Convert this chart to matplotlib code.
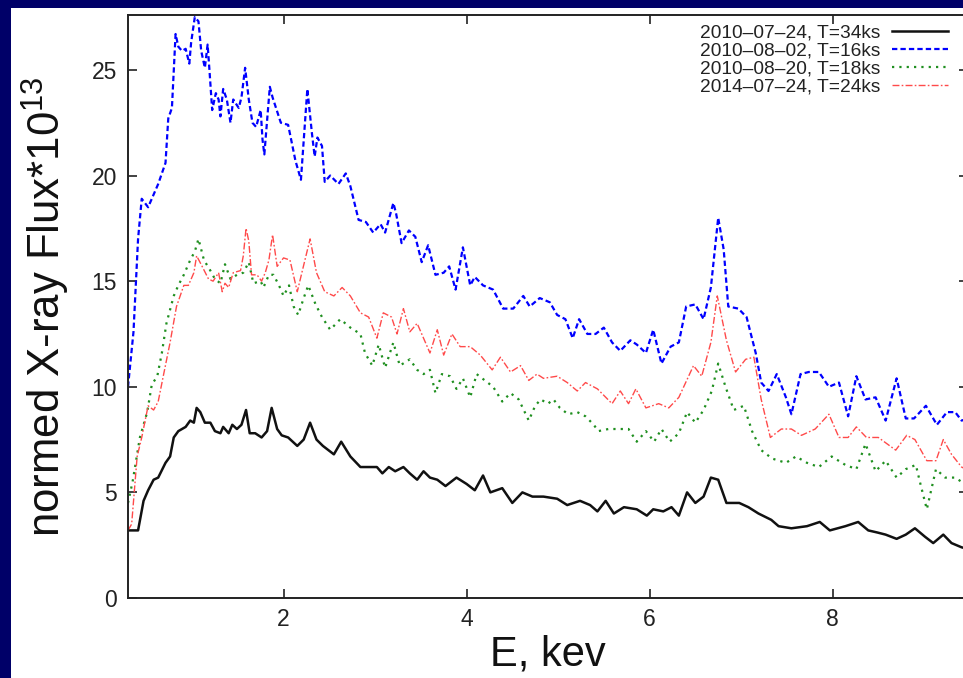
import matplotlib
matplotlib.use("Agg")
import matplotlib.pyplot as plt
from matplotlib.patches import Rectangle

plt.rcParams['font.family'] = ['Liberation Sans', 'DejaVu Sans']
plt.rcParams['mathtext.fontset'] = 'custom'
plt.rcParams['mathtext.rm'] = 'Liberation Sans'

# spectra, energy in keV and flux in units of 1e-13
e_100724 = [0.30, 0.41, 0.47, 0.52, 0.58, 0.63, 0.71, 0.76, 0.80, 0.85, 0.93, 0.98, 1.02, 1.05,
            1.09, 1.14, 1.20, 1.25, 1.31, 1.34, 1.40, 1.44, 1.49, 1.54, 1.59, 1.63, 1.69, 1.76,
            1.82, 1.87, 1.93, 1.98, 2.05, 2.15, 2.22, 2.29, 2.36, 2.43, 2.55, 2.63, 2.73, 2.84,
            2.95, 3.02, 3.08, 3.15, 3.22, 3.31, 3.38, 3.46, 3.53, 3.60, 3.68, 3.77, 3.89, 4.00,
            4.09, 4.18, 4.26, 4.39, 4.50, 4.61, 4.72, 4.84, 4.99, 5.10, 5.24, 5.35, 5.43, 5.52,
            5.61, 5.72, 5.86, 5.97, 6.04, 6.15, 6.24, 6.32, 6.41, 6.50, 6.59, 6.67, 6.75, 6.84,
            6.98, 7.08, 7.19, 7.33, 7.41, 7.55, 7.72, 7.86, 7.97, 8.14, 8.28, 8.39, 8.49, 8.58,
            8.70, 8.80, 8.90, 9.01, 9.10, 9.21, 9.30, 9.41, 9.50]
f_100724 = [3.2, 3.2, 4.6, 5.1, 5.6, 5.7, 6.4, 6.7, 7.6, 7.9, 8.1, 8.4, 8.3, 9.0,
            8.8, 8.3, 8.3, 7.9, 7.8, 8.1, 7.8, 8.2, 8.0, 8.2, 8.9, 7.8, 7.8, 7.6,
            7.9, 9.0, 8.0, 7.7, 7.6, 7.2, 7.5, 8.3, 7.5, 7.2, 6.8, 7.4, 6.7, 6.2,
            6.2, 6.2, 5.9, 6.2, 6.0, 6.2, 5.9, 5.6, 6.0, 5.7, 5.6, 5.3, 5.7, 5.4,
            5.1, 5.8, 5.0, 5.2, 4.5, 5.0, 4.8, 4.8, 4.7, 4.4, 4.6, 4.4, 4.1, 4.6,
            4.0, 4.3, 4.2, 3.9, 4.2, 4.1, 4.3, 3.9, 5.0, 4.5, 4.8, 5.7, 5.6, 4.5,
            4.5, 4.3, 4.0, 3.7, 3.4, 3.3, 3.4, 3.6, 3.2, 3.4, 3.6, 3.2, 3.1, 3.0,
            2.8, 3.0, 3.3, 2.9, 2.6, 3.0, 2.6, 2.4, 2.3]

e_100802 = [0.30, 0.36, 0.41, 0.45, 0.52, 0.63, 0.71, 0.74, 0.78, 0.82, 0.85, 0.89, 0.93, 0.97,
            0.99, 1.03, 1.07, 1.10, 1.14, 1.17, 1.19, 1.22, 1.26, 1.29, 1.31, 1.34, 1.38, 1.42,
            1.45, 1.51, 1.54, 1.58, 1.62, 1.66, 1.70, 1.75, 1.77, 1.79, 1.85, 1.88, 1.97, 2.05,
            2.13, 2.19, 2.23, 2.26, 2.31, 2.34, 2.37, 2.42, 2.45, 2.51, 2.60, 2.68, 2.73, 2.82,
            2.90, 2.98, 3.06, 3.11, 3.20, 3.23, 3.29, 3.37, 3.44, 3.51, 3.58, 3.66, 3.75, 3.81,
            3.88, 3.96, 4.04, 4.09, 4.18, 4.29, 4.40, 4.51, 4.62, 4.69, 4.80, 4.91, 4.99, 5.08,
            5.16, 5.23, 5.32, 5.41, 5.50, 5.59, 5.68, 5.79, 5.86, 5.96, 6.04, 6.13, 6.23, 6.32,
            6.40, 6.50, 6.59, 6.67, 6.75, 6.81, 6.86, 6.97, 7.06, 7.16, 7.22, 7.30, 7.39, 7.49,
            7.55, 7.65, 7.74, 7.85, 7.96, 8.07, 8.17, 8.26, 8.36, 8.47, 8.58, 8.70, 8.80, 8.89,
            9.02, 9.14, 9.25, 9.34, 9.41, 9.50]
f_100802 = [10.0, 12.6, 17.0, 18.9, 18.5, 19.6, 20.6, 22.7, 23.2, 26.7, 26.1, 25.9, 26.0, 25.3,
            26.3, 27.5, 27.3, 25.9, 25.1, 26.2, 25.0, 23.1, 23.9, 23.6, 22.8, 24.1, 23.6, 22.5,
            23.6, 23.2, 23.7, 25.1, 23.6, 22.5, 22.3, 23.1, 21.7, 21.0, 24.2, 23.7, 22.5, 22.4,
            20.7, 19.8, 22.3, 24.1, 22.0, 20.9, 21.8, 21.4, 19.7, 20.0, 19.6, 20.1, 19.5, 17.9,
            17.8, 17.3, 17.7, 17.3, 18.7, 18.2, 16.8, 17.4, 17.1, 15.9, 16.7, 15.3, 15.4, 15.7,
            14.6, 16.6, 14.8, 15.2, 14.8, 14.6, 13.7, 13.7, 14.3, 13.8, 14.2, 14.0, 13.4, 13.2,
            12.3, 13.2, 12.5, 12.5, 12.8, 12.1, 11.7, 12.2, 12.0, 11.6, 12.7, 11.1, 11.9, 12.1,
            13.8, 13.9, 13.2, 14.7, 18.0, 16.5, 13.8, 13.7, 13.3, 11.6, 10.2, 9.8, 10.6, 9.5,
            8.7, 10.6, 10.7, 10.7, 10.0, 10.2, 8.6, 10.5, 9.4, 9.5, 8.4, 10.4, 8.5, 8.5,
            9.1, 8.2, 8.8, 8.8, 8.4, 8.5]

e_100820 = [0.30, 0.35, 0.43, 0.51, 0.56, 0.62, 0.67, 0.72, 0.80, 0.85, 0.91, 0.98, 1.03, 1.07,
            1.13, 1.20, 1.25, 1.31, 1.36, 1.42, 1.49, 1.56, 1.62, 1.67, 1.75, 1.78, 1.84, 1.89,
            1.95, 2.00, 2.06, 2.11, 2.16, 2.22, 2.27, 2.35, 2.42, 2.51, 2.62, 2.73, 2.84, 2.89,
            2.97, 3.04, 3.11, 3.20, 3.27, 3.38, 3.46, 3.53, 3.60, 3.66, 3.73, 3.82, 3.89, 3.96,
            4.04, 4.11, 4.20, 4.29, 4.39, 4.48, 4.57, 4.68, 4.75, 4.81, 4.89, 4.95, 5.02, 5.11,
            5.21, 5.30, 5.39, 5.44, 5.55, 5.66, 5.77, 5.86, 5.96, 6.05, 6.13, 6.22, 6.32, 6.41,
            6.50, 6.59, 6.68, 6.75, 6.83, 6.92, 7.03, 7.12, 7.22, 7.34, 7.49, 7.60, 7.72, 7.85,
            7.99, 8.14, 8.26, 8.36, 8.47, 8.58, 8.70, 8.80, 8.91, 8.96, 9.03, 9.13, 9.23, 9.34,
            9.41, 9.50]
f_100820 = [4.5, 5.5, 7.6, 8.8, 10.1, 10.5, 11.6, 13.0, 14.3, 14.8, 15.3, 16.0, 16.4, 17.0,
            16.0, 15.5, 15.1, 14.9, 15.8, 15.1, 15.3, 15.4, 15.9, 14.9, 15.0, 14.7, 15.3, 15.3,
            14.8, 14.3, 14.8, 13.8, 13.4, 14.2, 14.8, 13.9, 13.3, 12.7, 13.2, 12.8, 12.5, 11.6,
            11.0, 12.0, 10.9, 12.1, 11.0, 11.3, 10.8, 10.6, 10.8, 9.7, 10.6, 10.5, 9.9, 10.4,
            9.5, 10.6, 10.3, 10.0, 9.3, 9.7, 9.4, 8.4, 9.1, 9.4, 9.2, 9.4, 9.0, 8.7,
            8.8, 8.6, 8.2, 7.9, 8.0, 8.0, 8.0, 7.4, 7.9, 7.4, 8.0, 7.4, 7.8, 8.8,
            8.3, 8.9, 9.8, 11.1, 10.0, 8.9, 9.1, 7.9, 7.0, 6.6, 6.4, 6.7, 6.4, 6.2,
            6.7, 6.3, 6.1, 7.3, 6.0, 6.5, 5.7, 6.1, 6.3, 5.4, 4.2, 6.1, 5.7, 5.7,
            5.5, 5.4]

e_140724 = [0.30, 0.34, 0.40, 0.45, 0.52, 0.58, 0.63, 0.69, 0.76, 0.83, 0.91, 0.96, 1.02, 1.05,
            1.11, 1.18, 1.23, 1.29, 1.33, 1.36, 1.40, 1.45, 1.53, 1.56, 1.59, 1.62, 1.65, 1.71,
            1.76, 1.80, 1.84, 1.88, 1.93, 2.00, 2.07, 2.15, 2.20, 2.29, 2.36, 2.45, 2.55, 2.64,
            2.73, 2.84, 2.93, 3.02, 3.09, 3.18, 3.24, 3.31, 3.38, 3.46, 3.53, 3.60, 3.68, 3.75,
            3.84, 3.93, 4.04, 4.15, 4.28, 4.37, 4.48, 4.59, 4.68, 4.77, 4.84, 4.99, 5.10, 5.21,
            5.30, 5.43, 5.59, 5.68, 5.77, 5.85, 5.96, 6.10, 6.21, 6.32, 6.48, 6.57, 6.67, 6.74,
            6.84, 6.94, 7.05, 7.14, 7.22, 7.32, 7.44, 7.55, 7.66, 7.81, 7.96, 8.07, 8.17, 8.26,
            8.37, 8.50, 8.69, 8.81, 8.90, 9.03, 9.13, 9.21, 9.30, 9.41, 9.50]
f_140724 = [3.2, 3.5, 6.7, 7.6, 9.1, 8.9, 9.3, 10.6, 12.1, 13.8, 14.8, 14.8, 15.4, 16.2,
            15.7, 15.1, 15.0, 15.4, 14.5, 14.9, 14.7, 15.4, 15.5, 16.2, 17.5, 16.9, 15.3, 15.3,
            15.0, 15.4, 16.0, 17.2, 15.7, 16.1, 16.0, 14.5, 15.4, 17.0, 15.4, 14.5, 14.3, 14.7,
            14.3, 13.5, 13.3, 12.3, 13.5, 13.3, 12.5, 13.7, 12.6, 13.0, 12.3, 11.6, 12.7, 11.5,
            12.5, 11.9, 11.9, 11.5, 10.8, 11.4, 10.7, 11.0, 10.3, 10.6, 10.4, 10.5, 10.2, 9.8,
            10.2, 9.9, 9.2, 9.8, 9.2, 9.9, 9.0, 9.2, 9.0, 9.5, 11.0, 10.5, 12.1, 14.3,
            12.2, 10.7, 11.3, 11.4, 9.4, 7.6, 8.0, 8.0, 7.7, 8.0, 8.7, 7.6, 7.6, 8.1,
            7.6, 7.6, 7.0, 7.7, 7.5, 6.5, 6.5, 7.5, 6.8, 6.2, 6.0]

labels = ['2010–07–24, T=34ks', '2010–08–02, T=16ks',
          '2010–08–20, T=18ks', '2014–07–24, T=24ks']

fig = plt.figure(figsize=(9.63, 6.78), dpi=100, facecolor='#000068')
# white slide area inside the dark frame, kept behind the axes
fig.patches.append(Rectangle((11 / 963, 0), 1, 670 / 678, transform=fig.transFigure,
                             facecolor='white', edgecolor='none', zorder=-10))

ax = fig.add_axes([128 / 963, 80 / 678, 840 / 963, 583 / 678])
ax.set_facecolor('white')

ax.plot(e_100724, f_100724, color='#111111', lw=1.8, ls='-', label=labels[0])
ax.plot(e_100802, f_100802, color='#0000ff', lw=1.6, ls=(0, (2.4, 1.4)), label=labels[1])
ax.plot(e_100820, f_100820, color='#1f8f1f', lw=1.6, ls=(0, (1, 2.3)), label=labels[2])
ax.plot(e_140724, f_140724, color='#ff4a4a', lw=1.0, ls=(0, (5, 1.6, 1.2, 1.6)), label=labels[3])

ax.set_xlim(0.3, 9.48)
ax.set_ylim(0, 27.6)
ax.set_xticks([2, 4, 6, 8])
ax.set_yticks([0, 5, 10, 15, 20, 25])

for s in ax.spines.values():
    s.set_linewidth(1.4)
    s.set_color('#222222')
ax.tick_params(direction='in', length=6.5, width=1.2, color='#222222',
               top=True, right=True, labelsize=16.5, labelcolor='#222222')
ax.tick_params(axis='y', pad=8)
ax.tick_params(axis='x', pad=7)

ax.set_xlabel('E, kev', fontsize=30, labelpad=3, color='#111111')
ax.set_ylabel(r'normed X-ray Flux*10$^{13}$', fontsize=31.5, labelpad=14, color='#111111')

leg = ax.legend(loc='upper right', bbox_to_anchor=(0.976, 0.984), frameon=False,
                markerfirst=False, fontsize=13.8, handlelength=2.9, handletextpad=0.6,
                labelspacing=0.03, borderpad=0, borderaxespad=0)
for t in leg.get_texts():
    t.set_color('#222222')

fig.savefig('out.png', dpi=100, facecolor=fig.get_facecolor())
